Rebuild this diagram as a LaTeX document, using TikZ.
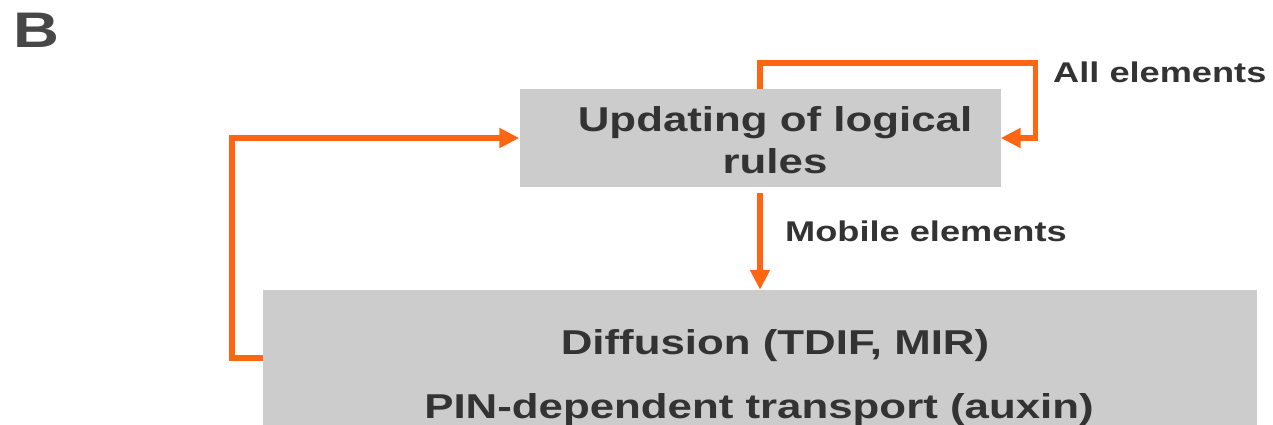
\documentclass[tikz,border=0pt]{standalone}
\usepackage{fontspec}
\setmainfont{Liberation Sans}
\newfontfamily\widebold[FakeStretch=1.27]{Liberation Sans Bold}
\usetikzlibrary{arrows.meta,positioning}
\definecolor{floworange}{HTML}{FF6611}
\definecolor{boxgray}{HTML}{CCCCCC}
\definecolor{inkgray}{HTML}{333333}

\begin{document}
\begin{tikzpicture}[
    x=1pt, y=-1pt,
    every node/.style={inner sep=0pt, text=inkgray},
    % Stile per i riquadri grigi
    box/.style={fill=boxgray, draw=none},
    % Stile per il testo nei riquadri
    boxtext/.style={font=\widebold\fontsize{34.5}{42}\selectfont, align=center},
    % Stile per le etichette delle frecce
    lbl/.style={font=\widebold\fontsize{28.5}{34}\selectfont, anchor=base west},
    % Stile per le frecce arancioni
    flow/.style={draw=floworange, line width=5.5pt, line join=miter,
                 -{Triangle[length=20pt,width=19pt]}}
]
\clip (0,0) rectangle (1273,425);

% --- Lettera del pannello ---
\node[font=\widebold\fontsize{50}{60}\selectfont, text=black!72, anchor=base west] (panel) at (13,48) {B};

% --- Riquadri ---
\node[box, minimum width=481pt, minimum height=98pt] (rulesbox) at (760,138) {};
\node[boxtext] (rulestext) at (775,140) {Updating of logical\\rules};

\node[box, minimum width=994pt, minimum height=136pt] (diffbox) at (760,358) {};
\node[boxtext, anchor=base] (diffusion) at (775,354) {Diffusion (TDIF, MIR)};
\node[boxtext, anchor=base] (pin) at (759,418) {PIN-dependent transport (auxin)};

% --- Frecce ---
\draw[flow] (rulesbox.north) -- ++(0,-26) -| ([xshift=35pt]rulesbox.east) -- (rulesbox.east);
\draw[flow] ([yshift=-6pt]rulesbox.south) -- (diffbox.north);
\draw[flow] (diffbox.west) -- ++(-31,0) |- (rulesbox.west);

% --- Etichette ---
\node[lbl] (allel) at (1053,83) {All elements};
\node[lbl] (mobileel) at (785,241) {Mobile elements};

\end{tikzpicture}
\end{document}
